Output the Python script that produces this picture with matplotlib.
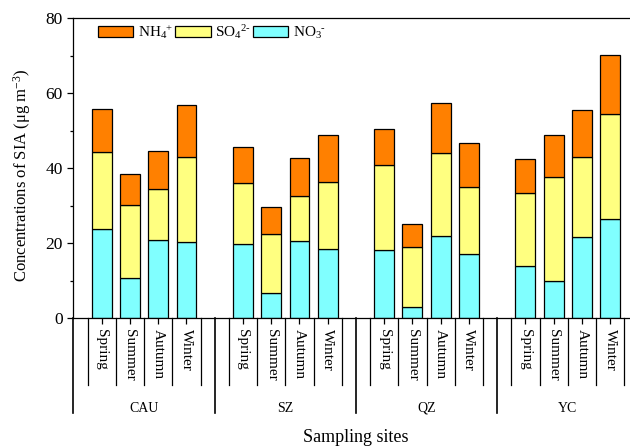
import matplotlib
matplotlib.use("Agg")
import matplotlib.pyplot as plt
from matplotlib.patches import Patch
import matplotlib.transforms as mtransforms

plt.rcParams["font.family"] = ["Liberation Serif", "DejaVu Serif"]
plt.rcParams["mathtext.fontset"] = "custom"
plt.rcParams["mathtext.rm"] = "Liberation Serif"
plt.rcParams["mathtext.it"] = "Liberation Serif:italic"

# -------- DATA --------
sites = ["CAU", "SZ", "QZ", "YC"]
seasons = ["Spring", "Summer", "Autumn", "Winter"]

no3 = [23.7, 10.7, 21.0, 20.4,
       19.8, 6.7, 20.5, 18.6,
       18.3, 3.1, 21.9, 17.2,
       14.0, 9.9, 21.6, 26.6]
so4 = [20.7, 19.4, 13.6, 22.7,
       16.3, 15.8, 12.0, 17.7,
       22.5, 15.8, 22.1, 17.9,
       19.5, 27.9, 21.5, 27.9]
nh4 = [11.3, 8.5, 9.9, 13.9,
       9.5, 7.2, 10.2, 12.5,
       9.8, 6.2, 13.4, 11.6,
       8.9, 11.2, 12.4, 15.6]

c_nh4 = "#FF8000"
c_so4 = "#FFFF80"
c_no3 = "#80FFFF"

# each site takes 5 slots: one empty slot, then four seasons
pos = [g * 5 + k + 1 for g in range(len(sites)) for k in range(len(seasons))]

fig = plt.figure(figsize=(6.3, 4.48), dpi=100)
ax = fig.add_axes([0.1165, 0.2895, 0.8968, 0.6697])

w = 0.7
bot2 = [a + b for a, b in zip(no3, so4)]
ax.bar(pos, no3, w, color=c_no3, edgecolor="black", linewidth=0.9)
ax.bar(pos, so4, w, bottom=no3, color=c_so4, edgecolor="black", linewidth=0.9)
ax.bar(pos, nh4, w, bottom=bot2, color=c_nh4, edgecolor="black", linewidth=0.9)

ax.set_xlim(0, 20)
ax.set_ylim(0, 80)
ax.set_yticks([0, 20, 40, 60, 80])
ax.set_yticks([10, 30, 50, 70], minor=True)
ax.tick_params(axis="y", which="major", direction="out", length=4, width=0.9, labelsize=12.5)
ax.tick_params(axis="y", which="minor", direction="out", length=2.5, width=0.9)
ax.set_xticks(pos)
ax.set_xticklabels([])
ax.tick_params(axis="x", direction="out", length=4, width=0.9)
for s in ax.spines.values():
    s.set_linewidth(0.9)

ax.text(-0.0915, 0.478, "Concentrations of SIA (μg m$^{-3}$)", rotation=90,
        ha="center", va="center", fontsize=12, transform=ax.transAxes)

# -------- MULTI-LEVEL X AXIS --------
trans = mtransforms.blended_transform_factory(ax.transData, ax.transAxes)
for i in range(20):
    xl = i + 0.5
    ax.plot([xl, xl], [0, -0.222], color="black", lw=0.9, transform=trans, clip_on=False)
for g in range(len(sites) + 1):
    xg = g * 5
    ax.plot([xg, xg], [0, -0.315], color="black", lw=1.2, transform=trans, clip_on=False)

for p, k in zip(pos, range(len(pos))):
    ax.text(p, -0.036, seasons[k % 4], rotation=-90, ha="center", va="top",
            fontsize=11, transform=trans)

for g, name in enumerate(sites):
    ax.text(g * 5 + 2.5, -0.30, name, ha="center", va="center", fontsize=10,
            transform=trans)

ax.text(10, -0.396, "Sampling sites", ha="center", va="center", fontsize=13,
        transform=trans)

# -------- LEGEND --------
handles = [Patch(facecolor=c_nh4, edgecolor="black", linewidth=0.9),
           Patch(facecolor=c_so4, edgecolor="black", linewidth=0.9),
           Patch(facecolor=c_no3, edgecolor="black", linewidth=0.9)]
labels = ["NH$_4{}^{+}$", "SO$_4{}^{2\u2010}$", "NO$_3{}^{\u2010}$"]
ax.legend(handles, labels, loc="upper left", bbox_to_anchor=(0.0435, 0.985),
          ncol=3, frameon=False, fontsize=11, borderpad=0, borderaxespad=0,
          handlelength=2.3, handleheight=0.8, handletextpad=0.3, columnspacing=0.15)

fig.savefig("out.png", dpi=100)
